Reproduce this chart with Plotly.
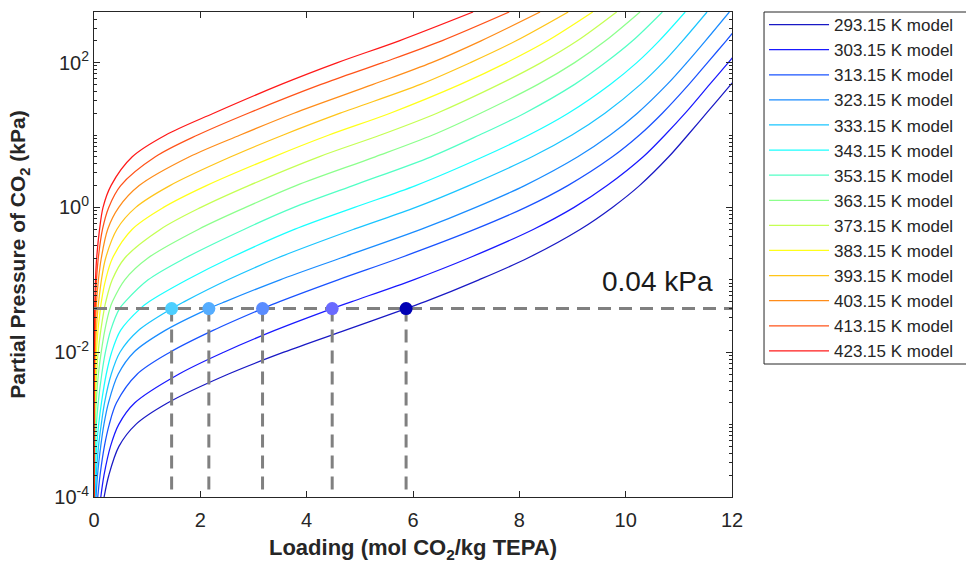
import plotly.graph_objects as go

# CO2 partial pressure levels (kPa) at which loadings are tabulated
pressure_kpa = [0.0001, 0.0002, 0.0005, 0.001, 0.002, 0.005, 0.01, 0.02, 0.04, 0.05,
                0.1, 0.2, 0.5, 1, 2, 5, 10, 20, 50, 100, 200, 500]

temperatures_k = [293.15, 303.15, 313.15, 323.15, 333.15, 343.15, 353.15,
                  363.15, 373.15, 383.15, 393.15, 403.15, 413.15, 423.15]

# Model loading (mol CO2/kg TEPA) at each pressure level, one list per temperature
loading_293 = [0.19, 0.279, 0.469, 0.783, 1.39, 2.53, 3.57, 4.72, 5.87, 6.23, 7.24, 8.16,
               9.15, 9.75, 10.26, 10.81, 11.17, 11.52, 11.98, 12.32, None, None]
loading_303 = [0.128, 0.188, 0.31, 0.464, 0.768, 1.60, 2.44, 3.40, 4.48, 4.85, 6.01, 7.05,
               8.27, 9.03, 9.65, 10.33, 10.74, 11.12, 11.58, 11.93, 12.27, None]
loading_313 = [0.071, 0.114, 0.195, 0.286, 0.423, 0.815, 1.43, 2.24, 3.17, 3.49, 4.59, 5.75,
               7.17, 8.12, 8.91, 9.75, 10.26, 10.69, 11.19, 11.54, 11.89, 12.34]
loading_323 = [0.039, 0.066, 0.126, 0.186, 0.272, 0.457, 0.75, 1.34, 2.16, 2.47, 3.5, 4.64,
               6.16, 7.18, 8.10, 9.10, 9.71, 10.22, 10.78, 11.15, 11.5, 11.95]
loading_333 = [0.022, 0.042, 0.085, 0.136, 0.198, 0.325, 0.488, 0.835, 1.46, 1.70, 2.52, 3.45,
               4.89, 6.05, 7.05, 8.24, 8.99, 9.61, 10.28, 10.70, 11.07, 11.53]
loading_343 = [0.0117, 0.023, 0.05, 0.0875, 0.14, 0.231, 0.332, 0.50, 0.87, 1.04, 1.75, 2.56,
               3.78, 4.90, 6.05, 7.32, 8.18, 8.92, 9.71, 10.21, 10.63, 11.12]
loading_353 = [0.0052, 0.0105, 0.027, 0.045, 0.0794, 0.1464, 0.2148, 0.3127, 0.48, 0.587,
               1.018, 1.717, 2.83, 3.76, 4.87, 6.34, 7.25, 8.10, 9.04, 9.62, 10.13, 10.69]
loading_363 = [0.0026, 0.0048, 0.0123, 0.025, 0.0411, 0.0832, 0.1356, 0.2029, 0.2987, 0.3477,
               0.579, 1.015, 1.97, 2.85, 3.80, 5.29, 6.37, 7.27, 8.35, 9.04, 9.62, 10.27]
loading_373 = [0.00116, 0.00246, 0.0058, 0.0116, 0.0232, 0.048, 0.0783, 0.1275, 0.194, 0.222,
               0.343, 0.58, 1.253, 2.011, 2.91, 4.23, 5.39, 6.45, 7.62, 8.41, 9.09, 9.83]
loading_383 = [0.00055, 0.00108, 0.0028, 0.0055, 0.0111, 0.0261, 0.0456, 0.0751, 0.1208, 0.138,
               0.218, 0.349, 0.72, 1.308, 2.114, 3.38, 4.42, 5.57, 6.89, 7.76, 8.53, 9.38]
loading_393 = [0.00027, 0.00054, 0.00144, 0.00265, 0.0054, 0.0138, 0.0249, 0.0443, 0.074, 0.0876,
               0.14, 0.2196, 0.432, 0.786, 1.427, 2.574, 3.56, 4.63, 6.14, 7.08, 7.94, 8.92]
loading_403 = [0.00014, 0.00027, 0.0007, 0.0014, 0.0027, 0.0069, 0.0136, 0.0235, 0.0419, 0.0484,
               0.0833, 0.1375, 0.258, 0.466, 0.85, 1.795, 2.75, 3.76, 5.25, 6.35, 7.28, 8.39]
loading_413 = [0.00012, 0.00022, 0.00045, 0.0008, 0.0016, 0.0036, 0.0068, 0.013, 0.0226, 0.028,
               0.047, 0.081, 0.16, 0.277, 0.502, 1.154, 1.95, 2.90, 4.27, 5.43, 6.54, 7.81]
loading_423 = [0.0001, 0.00016, 0.00034, 0.0006, 0.0011, 0.0023, 0.0041, 0.0073, 0.013, 0.016,
               0.028, 0.05, 0.105, 0.17, 0.32, 0.72, 1.35, 2.25, 3.52, 4.58, 5.74, 7.13]

loadings = [loading_293, loading_303, loading_313, loading_323, loading_333, loading_343,
            loading_353, loading_363, loading_373, loading_383, loading_393, loading_403,
            loading_413, loading_423]

# Jet-style colour ramp, cold to hot
line_colors = ["#0000bf", "#0000ff", "#0040ff", "#0080ff", "#00bfff", "#00ffff", "#40ffbf",
               "#80ff80", "#bfff40", "#ffff00", "#ffbf00", "#ff8000", "#ff4000", "#ff0000"]

# Ambient CO2 level and the isotherms whose loading at that level is marked
ambient_kpa = 0.04
marked_temps_k = [333.15, 323.15, 313.15, 303.15, 293.15]
marker_colors = ["#4dcfff", "#55adff", "#5a8cff", "#6a6aff", "#0000b4"]

FONT = "Arial, Liberation Sans, sans-serif"
INK = "#262626"

fig = go.Figure()

for temp, loads, color in zip(temperatures_k, loadings, line_colors):
    fig.add_trace(go.Scatter(
        x=loads, y=pressure_kpa, mode="lines", name=f"{temp:.2f} K model",
        line=dict(color=color, width=1.25, shape="spline", smoothing=0.9),
        opacity=0.9, hoverinfo="skip",
    ))

# Loading of each marked isotherm at the ambient pressure level
amb_idx = pressure_kpa.index(ambient_kpa)
marked_loadings = [loadings[temperatures_k.index(t)][amb_idx] for t in marked_temps_k]

# Dashed guide lines: horizontal at ambient level, vertical drops to the axis
guide = dict(color="#808080", width=3, dash="13px,8px")
fig.add_trace(go.Scatter(
    x=[0, 12], y=[ambient_kpa, ambient_kpa], mode="lines", showlegend=False,
    line=guide, hoverinfo="skip",
))
drop_x, drop_y = [], []
for q in marked_loadings:
    drop_x += [q, q, None]
    drop_y += [ambient_kpa, 1e-4, None]
fig.add_trace(go.Scatter(
    x=drop_x, y=drop_y, mode="lines", showlegend=False, line=guide, hoverinfo="skip",
))

fig.add_trace(go.Scatter(
    x=marked_loadings, y=[ambient_kpa] * len(marked_loadings), mode="markers",
    showlegend=False, marker=dict(size=13, color=marker_colors, line=dict(width=0)),
    hoverinfo="skip",
))

fig.add_annotation(
    x=10.6, y=-1.03, xref="x", yref="y", text="0.04 kPa", showarrow=False,
    xanchor="center", yanchor="middle", font=dict(family=FONT, size=28, color="#1a1a1a"),
)

# Legend frame; it runs past the right edge of the figure
fig.add_shape(
    type="rect", xref="paper", yref="paper", x0=1.0502, x1=1.45, y0=0.2742, y1=1.0,
    line=dict(color=INK, width=1), fillcolor="white", layer="below",
)

minor_vals = [k * 10.0 ** n for n in range(-4, 3) for k in range(1, 10)
              if not (k == 1 and n % 2 == 0) and k * 10.0 ** n <= 500]

fig.update_layout(
    width=966, height=563,
    margin=dict(l=94, r=234, t=12, b=66, autoexpand=False),
    paper_bgcolor="white", plot_bgcolor="white",
    font=dict(family=FONT, color=INK),
    xaxis=dict(
        range=[0, 12], tickvals=[0, 2, 4, 6, 8, 10, 12], ticks="inside", ticklen=6,
        tickcolor=INK, showline=True, linecolor=INK, linewidth=1, mirror="ticks",
        showgrid=False, zeroline=False, tickfont=dict(size=20, color=INK),
        ticklabelstandoff=5,
        title=dict(text="<b>Loading (mol CO<sub>2</sub>/kg TEPA)</b>",
                   font=dict(size=22, color=INK), standoff=12),
    ),
    yaxis=dict(
        type="log", range=[-4, 2.699],
        tickvals=[1e-4, 1e-2, 1, 100],
        ticktext=["10<sup>-4</sup>", "10<sup>-2</sup>", "10<sup>0</sup>", "10<sup>2</sup>"],
        ticks="inside", ticklen=6, tickcolor=INK, showline=True, linecolor=INK,
        linewidth=1, mirror="ticks", showgrid=False, zeroline=False,
        tickfont=dict(size=20, color=INK),
        minor=dict(ticks="inside", ticklen=3, tickvals=minor_vals, tickcolor=INK,
                   showgrid=False),
        title=dict(text="<b>Partial Pressure of CO<sub>2</sub> (kPa)</b>",
                   font=dict(size=21, color=INK), standoff=22),
    ),
    legend=dict(
        x=1.0502, y=1.0103, xanchor="left", yanchor="top",
        borderwidth=0, bgcolor="rgba(0,0,0,0)",
        font=dict(family=FONT, size=17, color=INK),
        itemwidth=60, tracegroupgap=0, maxheight=560,
    ),
    showlegend=True,
)

fig.write_html("out.html")
